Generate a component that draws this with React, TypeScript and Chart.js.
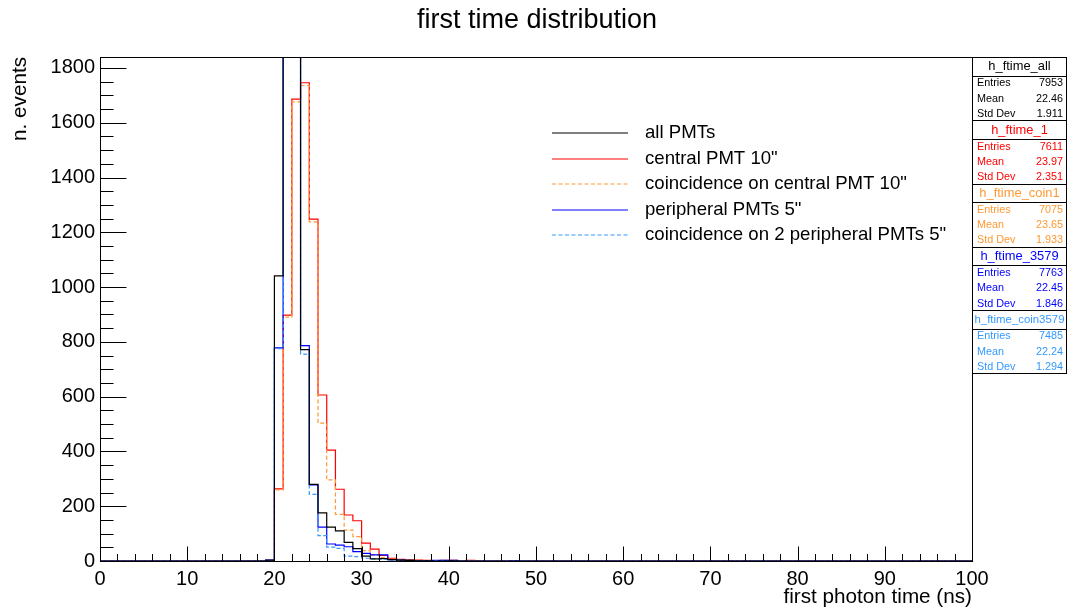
import React, { useEffect, useRef } from 'react';
import { Chart, registerables } from 'chart.js';

Chart.register(...registerables);

// ---- data (bin contents, 1 ns bins, first listed bin = 19 ns) ----
const FIRST_BIN = 19;
const N_BINS = 100;
const X_MIN = 0;
const X_MAX = 100;
const Y_MAX = 1840;

const allPMTs = [3, 1041, 2860, 2426, 772, 280, 176, 124, 110, 68, 45, 18, 8, 9, 5, 3, 2, 1, 1, 0, 0, 1];
const centralPMT = [0, 263, 898, 1686, 1746, 1248, 606, 405, 262, 168, 147, 65, 43, 20, 10, 6, 4, 3, 2, 1, 2, 2, 1, 2, 1];
const coinCentral = [0, 260, 890, 1676, 1736, 1238, 503, 296, 170, 113, 89, 38, 22, 12, 6, 4, 3, 2, 1, 1, 1, 1, 0, 1];
const peripheral = [3, 778, 2390, 3120, 786, 278, 124, 62, 58, 52, 34, 28, 22, 22, 5, 3, 2, 1, 1, 2, 2, 2, 0, 0, 0, 0, 0, 0, 1];
const coinPeripheral = [0, 775, 2700, 2650, 755, 243, 93, 51, 46, 18, 16, 10, 8, 7, 3, 2, 1, 1, 0, 1, 0, 1];

// tick labels
const xTickValues = [0, 10, 20, 30, 40, 50, 60, 70, 80, 90, 100];
const yTickValues = [0, 200, 400, 600, 800, 1000, 1200, 1400, 1600, 1800];

const seriesLabels = [
  'all PMTs',
  'central PMT 10"',
  'coincidence on central PMT 10"',
  'peripheral PMTs 5"',
  'coincidence on 2 peripheral PMTs 5"',
];
const seriesColors = ['#000000', '#ff0000', '#ff9933', '#0000ff', '#3399ff'];
const seriesDashed = [false, false, true, false, true];
// chart.js: lower order is drawn on top
const seriesOrder = [0, 4, 3, 2, 1];

const statNames = ['h_ftime_all', 'h_ftime_1', 'h_ftime_coin1', 'h_ftime_3579', 'h_ftime_coin3579'];
const statEntries = ['7953', '7611', '7075', '7763', '7485'];
const statMeans = ['22.46', '23.97', '23.65', '22.45', '22.24'];
const statStdDevs = ['1.911', '2.351', '1.933', '1.846', '1.294'];

const TITLE = 'first time distribution';
const X_TITLE = 'first photon time (ns)';
const Y_TITLE = 'n. events';

const FONT = '"Liberation Sans", Arial, Helvetica, sans-serif';

function toPoints(values: number[]) {
  const bins: number[] = new Array(N_BINS).fill(0);
  values.forEach((v, i) => {
    const b = FIRST_BIN + i;
    if (b >= 0 && b < N_BINS) bins[b] = v;
  });
  const pts = bins.map((v, i) => ({ x: X_MIN + i, y: v }));
  pts.push({ x: X_MAX, y: bins[N_BINS - 1] });
  return pts;
}

const allSeries = [allPMTs, centralPMT, coinCentral, peripheral, coinPeripheral];

const rootDecor = {
  id: 'rootDecor',
  afterDraw(chart: any) {
    const { ctx, chartArea: a, scales } = chart;
    const xs = scales.x;
    const ys = scales.y;
    ctx.save();
    ctx.strokeStyle = '#000';
    ctx.lineWidth = 1;
    ctx.setLineDash([]);

    // frame
    const L = Math.round(a.left) + 0.5;
    const R = Math.round(a.right) + 0.5;
    const T = Math.round(a.top) + 0.5;
    const B = Math.round(a.bottom) + 0.5;
    ctx.strokeRect(L, T, R - L, B - T);

    // x ticks (inward)
    ctx.beginPath();
    for (let v = X_MIN; v <= X_MAX; v += 2) {
      const px = Math.round(xs.getPixelForValue(v)) + 0.5;
      const len = v % 10 === 0 ? 15 : 7.5;
      ctx.moveTo(px, B);
      ctx.lineTo(px, B - len);
    }
    // y ticks (inward)
    for (let v = 0; v <= Y_MAX; v += 50) {
      const py = Math.round(ys.getPixelForValue(v)) + 0.5;
      const len = v % 200 === 0 ? 26 : 13;
      ctx.moveTo(L, py);
      ctx.lineTo(L + len, py);
    }
    ctx.stroke();

    // title
    ctx.fillStyle = '#000';
    ctx.font = `27px ${FONT}`;
    ctx.textAlign = 'center';
    ctx.textBaseline = 'alphabetic';
    ctx.fillText(TITLE, 537, 28);

    // x axis title
    ctx.font = `20.7px ${FONT}`;
    ctx.textAlign = 'right';
    ctx.fillText(X_TITLE, a.right, 603);

    // y axis title
    ctx.save();
    ctx.translate(25.5, a.top);
    ctx.rotate(-Math.PI / 2);
    ctx.textAlign = 'right';
    ctx.textBaseline = 'alphabetic';
    ctx.fillText(Y_TITLE, 0, 0);
    ctx.restore();

    // legend
    const legRows = [133, 158.5, 184, 209.5, 235];
    ctx.font = `18.6px ${FONT}`;
    ctx.textAlign = 'left';
    ctx.textBaseline = 'middle';
    seriesLabels.forEach((lab, i) => {
      const yy = Math.round(legRows[i]);
      ctx.strokeStyle = seriesColors[i];
      ctx.lineWidth = 1.2;
      ctx.setLineDash(seriesDashed[i] ? [4, 2.5] : []);
      ctx.beginPath();
      ctx.moveTo(552, yy);
      ctx.lineTo(628, yy);
      ctx.stroke();
      ctx.fillStyle = '#000';
      ctx.fillText(lab, 645, legRows[i]);
    });
    ctx.setLineDash([]);

    // stats boxes
    const bx0 = R;
    const bx1 = 1066.5;
    const boxH = 63.26;
    statNames.forEach((name, k) => {
      const top = a.top + k * boxH;
      const col = seriesColors[k];
      ctx.strokeStyle = '#000';
      ctx.lineWidth = 1;
      const t0 = Math.round(top) + 0.5;
      const t1 = Math.round(top + boxH) + 0.5;
      ctx.strokeRect(bx0, t0, bx1 - bx0, t1 - t0);
      const sep = Math.round(top + 18.5) + 0.5;
      ctx.beginPath();
      ctx.moveTo(bx0, sep);
      ctx.lineTo(bx1, sep);
      ctx.stroke();

      ctx.fillStyle = col;
      ctx.textBaseline = 'middle';
      ctx.textAlign = 'center';
      ctx.font = `${name.length > 14 ? 11.4 : 12.9}px ${FONT}`;
      ctx.fillText(name, (bx0 + bx1) / 2, top + 9.8);

      ctx.font = `10.8px ${FONT}`;
      const rows: [string, string][] = [
        ['Entries', statEntries[k]],
        ['Mean', statMeans[k]],
        ['Std Dev', statStdDevs[k]],
      ];
      const offs = [26.3, 41.6, 57];
      rows.forEach(([lab, val], r) => {
        ctx.textAlign = 'left';
        ctx.fillText(lab, 977, top + offs[r]);
        ctx.textAlign = 'right';
        ctx.fillText(val, 1063, top + offs[r]);
      });
    });

    ctx.restore();
  },
};

export default function App() {
  const ref = useRef<HTMLCanvasElement | null>(null);

  useEffect(() => {
    const canvas = ref.current;
    if (!canvas) return;
    const chart = new Chart(canvas, {
      type: 'line',
      data: {
        datasets: allSeries.map((vals, i) => ({
          label: seriesLabels[i],
          data: toPoints(vals),
          borderColor: seriesColors[i],
          backgroundColor: seriesColors[i],
          borderWidth: 1.2,
          borderDash: seriesDashed[i] ? [4, 2.5] : [],
          pointRadius: 0,
          pointHoverRadius: 0,
          fill: false,
          stepped: 'before',
          tension: 0,
          order: seriesOrder[i],
        })),
      },
      options: {
        responsive: false,
        animation: false,
        devicePixelRatio: 1,
        events: [],
        layout: { padding: { left: 0, right: 95, top: 57, bottom: 0 } },
        plugins: {
          legend: { display: false },
          title: { display: false },
          tooltip: { enabled: false },
        },
        scales: {
          x: {
            type: 'linear',
            min: X_MIN,
            max: X_MAX,
            grid: { display: false, drawTicks: false },
            border: { display: false },
            ticks: {
              padding: 6,
              color: '#000',
              font: { family: FONT, size: 20 },
              maxRotation: 0,
              minRotation: 0,
              autoSkip: false,
              callback: (v: any) => String(v),
            },
            afterBuildTicks: (s: any) => {
              s.ticks = xTickValues.map((v) => ({ value: v }));
            },
            afterFit: (s: any) => {
              s.height = 46;
            },
          },
          y: {
            type: 'linear',
            min: 0,
            max: Y_MAX,
            grid: { display: false, drawTicks: false },
            border: { display: false },
            ticks: {
              padding: 5,
              color: '#000',
              font: { family: FONT, size: 20 },
              autoSkip: false,
              callback: (v: any) => String(v),
            },
            afterBuildTicks: (s: any) => {
              s.ticks = yTickValues.map((v) => ({ value: v }));
            },
            afterFit: (s: any) => {
              s.width = 100;
            },
          },
        },
      },
      plugins: [rootDecor],
    });
    return () => chart.destroy();
  }, []);

  return (
    <div style={{ position: 'fixed', left: 0, top: 0, width: 1067, height: 607, background: '#fff' }}>
      <canvas ref={ref} width={1067} height={607} style={{ display: 'block', width: 1067, height: 607 }} />
    </div>
  );
}
